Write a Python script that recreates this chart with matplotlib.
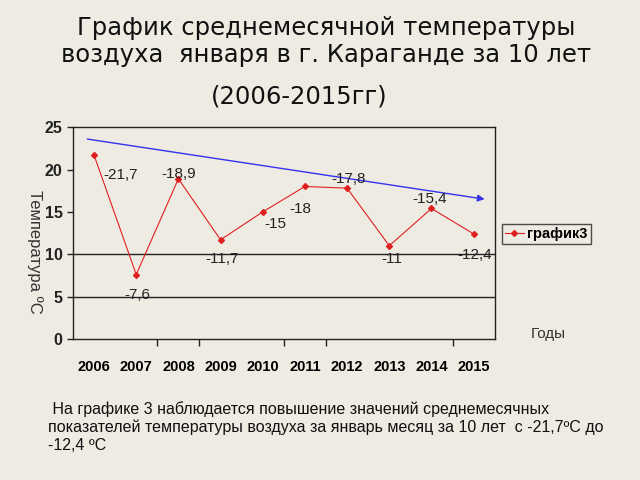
import matplotlib
matplotlib.use("Agg")
import matplotlib.pyplot as plt
from matplotlib.lines import Line2D

years = ["2006", "2007", "2008", "2009", "2010", "2011", "2012", "2013", "2014", "2015"]
values = [21.7, 7.6, 18.9, 11.7, 15, 18, 17.8, 11, 15.4, 12.4]
point_labels = ["-21,7", "-7,6", "-18,9", "-11,7", "-15", "-18", "-17,8", "-11", "-15,4", "-12,4"]
label_offsets = [(19, -14), (1, -14.5), (0, 3.5), (1, -14), (9, -9), (-3, -16),
                 (1, 6.5), (2, -9.5), (-1.5, 7), (0.5, -15)]
yticks = [0, 5, 10, 15, 20, 25]
trend_start = 23.6
trend_end = 16.5
series_name = "график3"

bg = "#EEEBE2"
fig = plt.figure(figsize=(6.4, 4.8), dpi=100, facecolor=bg)
ax = fig.add_axes([0.114, 0.294, 0.659, 0.441], facecolor=bg)

x = list(range(len(years)))
ax.set_xlim(-0.5, len(years) - 0.5)
ax.set_ylim(0, 25)

for g in (5, 10):
    ax.axhline(g, color="#222222", lw=1.0, zorder=1)

ax.plot(x, values, color="#e02020", lw=0.8, marker="D", ms=3, mfc="#e02020",
        mec="#e02020", zorder=3)

for xi, v, lab, off in zip(x, values, point_labels, label_offsets):
    ax.annotate(lab, (xi, v), xytext=off, textcoords="offset points",
                ha="center", va="center", fontsize=11, family="Liberation Sans",
                color="#222222", zorder=4)

ax.annotate("", xy=(9.26, trend_end), xytext=(-0.16, trend_start),
            arrowprops=dict(arrowstyle="-|>", color="#3333ee", lw=1.0,
                            mutation_scale=10, shrinkA=0, shrinkB=0), zorder=2)

for s in ax.spines.values():
    s.set_color("#222222")
    s.set_linewidth(1.0)

ax.set_yticks(yticks)
ax.set_yticklabels([str(t) for t in yticks], fontsize=11.5, fontweight="bold",
                   family="Liberation Sans")
ax.tick_params(axis="y", length=4.5, width=1, pad=3, colors="#222222")

ax.set_xticks(x)
ax.set_xticklabels(years, fontsize=10.5, fontweight="bold", family="Liberation Sans")
ax.tick_params(axis="x", which="major", length=0, pad=15)
ax.set_xticks([1.5, 2.5, 4.5, 5.5, 8.5], minor=True)
ax.tick_params(axis="x", which="minor", length=5, width=1, color="#222222")

fig.text(0.055, 0.475, "Температура ºС", rotation=270, ha="center", va="center",
         fontsize=12, family="Liberation Sans", color="#333333")
fig.text(0.856, 0.304, "Годы", ha="center", va="center", fontsize=11,
         family="Liberation Sans", color="#333333")

handle = Line2D([], [], color="#e02020", lw=0.8, marker="D", ms=3)
leg = fig.legend([handle], [series_name], loc="center left",
                 bbox_to_anchor=(0.784, 0.512), frameon=True, fancybox=False,
                 edgecolor="#222222", facecolor=bg, handlelength=1.3,
                 handletextpad=0.25, borderpad=0.2, borderaxespad=0,
                 prop={"family": "Liberation Sans", "weight": "bold", "size": 10.5})
leg.get_frame().set_linewidth(1.0)

fig.text(0.51, 0.942, "График среднемесячной температуры",
         ha="center", va="center", fontsize=17.5, family="DejaVu Sans", color="#111111")
fig.text(0.51, 0.886, "воздуха  января в г. Караганде за 10 лет",
         ha="center", va="center", fontsize=17.5, family="DejaVu Sans", color="#111111")
fig.text(0.467, 0.798, "(2006-2015гг)", ha="center", va="center", fontsize=17.5,
         family="DejaVu Sans", color="#111111")

fig.text(0.075, 0.110,
         " На графике 3 наблюдается повышение значений среднемесячных\n"
         "показателей температуры воздуха за январь месяц за 10 лет  с -21,7ºC до\n"
         "-12,4 ºC",
         ha="left", va="center", fontsize=11.5, family="Liberation Sans",
         color="#111111", linespacing=1.2)

fig.savefig("out.png", dpi=100, facecolor=bg)
